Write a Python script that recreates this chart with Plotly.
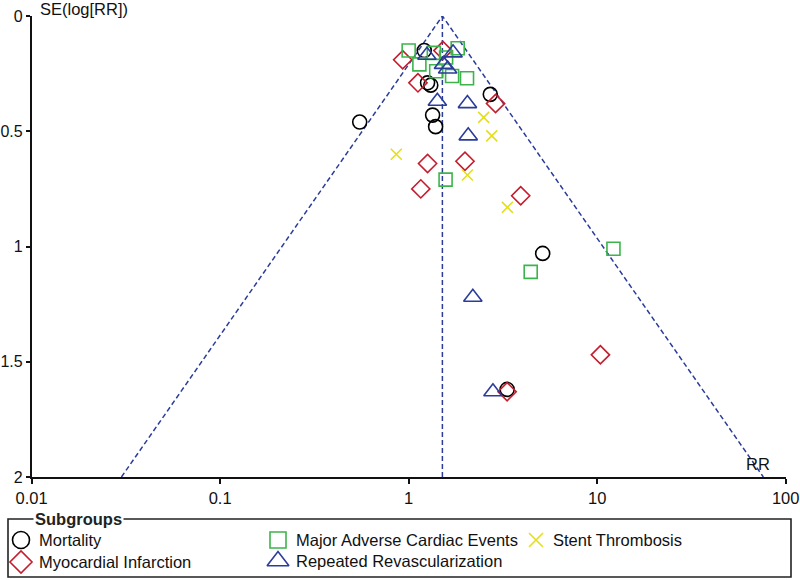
import math
import plotly.graph_objects as go

# ---------------- data ----------------
summary_rr = 1.51
se_max = 2.0

mort_rr = [0.55, 1.21, 1.26, 1.31, 2.71, 1.34, 1.39, 5.14, 3.33]
mort_se = [0.46, 0.15, 0.29, 0.30, 0.34, 0.43, 0.48, 1.03, 1.62]

mi_rr = [0.93, 1.52, 1.12, 2.89, 1.26, 1.99, 1.16, 3.93, 10.4, 3.33]
mi_se = [0.19, 0.15, 0.29, 0.38, 0.64, 0.63, 0.75, 0.78, 1.47, 1.63]

mace_rr = [1.00, 1.14, 1.36, 1.58, 1.82, 1.40, 1.70, 2.04, 1.57, 4.44, 12.2]
mace_se = [0.15, 0.21, 0.16, 0.18, 0.14, 0.24, 0.26, 0.27, 0.71, 1.11, 1.01]

rev_rr = [1.25, 1.72, 1.53, 1.61, 1.42, 2.05, 2.07, 2.19, 2.80]
rev_se = [0.17, 0.16, 0.21, 0.23, 0.37, 0.38, 0.52, 1.22, 1.63]

st_rr = [2.50, 2.76, 0.86, 2.05, 3.34]
st_se = [0.44, 0.52, 0.60, 0.69, 0.83]

x_ticks = [0.01, 0.1, 1, 10, 100]
x_ticktext = ["0.01", "0.1", "1", "10", "100"]
y_ticks = [0, 0.5, 1, 1.5, 2]
y_ticktext = ["0", "0.5", "1", "1.5", "2"]

groups = ["Mortality", "Myocardial Infarction", "Major Adverse Cardiac Events",
          "Repeated Revascularization", "Stent Thrombosis"]

# ---------------- styling ----------------
W, H = 800, 580
FONT = "Liberation Sans, Arial, sans-serif"
FS = 16.5
DASH_COL = "#2b3c9a"
styles = {
    "Mortality": dict(symbol="circle-open", color="#000000", size=14),
    "Myocardial Infarction": dict(symbol="diamond-open", color="#c41e2e", size=14),
    "Major Adverse Cardiac Events": dict(symbol="square-open", color="#3cb44b", size=13),
    "Repeated Revascularization": dict(symbol="triangle-up-open", color="#2b3c9a", size=16),
    "Stent Thrombosis": dict(symbol="x-thin-open", color="#e3df1c", size=11),
}
series = {
    "Mortality": (mort_rr, mort_se),
    "Myocardial Infarction": (mi_rr, mi_se),
    "Major Adverse Cardiac Events": (mace_rr, mace_se),
    "Repeated Revascularization": (rev_rr, rev_se),
    "Stent Thrombosis": (st_rr, st_se),
}

fig = go.Figure()

# funnel (pseudo 95% limits)
lo = math.exp(math.log(summary_rr) - 1.96 * se_max)
hi = math.exp(math.log(summary_rr) + 1.96 * se_max)
fig.add_trace(go.Scatter(x=[lo, summary_rr, hi], y=[se_max, 0, se_max], mode="lines",
                         line=dict(color=DASH_COL, width=1.5, dash="5px,3px"),
                         hoverinfo="skip", showlegend=False))
fig.add_trace(go.Scatter(x=[summary_rr, summary_rr], y=[0, se_max], mode="lines",
                         line=dict(color=DASH_COL, width=1.5, dash="5px,3px"),
                         hoverinfo="skip", showlegend=False))

for g in groups:
    xs, ys = series[g]
    st = styles[g]
    fig.add_trace(go.Scatter(
        x=xs, y=ys, mode="markers", name=g, showlegend=False,
        marker=dict(symbol=st["symbol"], size=st["size"], color=st["color"],
                    line=dict(width=1.6, color=st["color"])),
    ))

# ---------------- legend (drawn in pixel axes) ----------------
leg_items = [
    ("Mortality", 21, 540, 37),
    ("Myocardial Infarction", 21, 562, 37),
    ("Major Adverse Cardiac Events", 278, 540, 294),
    ("Repeated Revascularization", 278, 561, 294),
    ("Stent Thrombosis", 536, 540, 551),
]
for g, mx, my, tx in leg_items:
    st = styles[g]
    fig.add_trace(go.Scatter(
        x=[mx], y=[my], xaxis="x2", yaxis="y2", mode="markers", showlegend=False,
        hoverinfo="skip",
        marker=dict(symbol=st["symbol"], size=st["size"] + 3, color=st["color"],
                    line=dict(width=1.6, color=st["color"])),
    ))
    fig.add_annotation(x=tx, y=my, xref="x2", yref="y2", text=g, showarrow=False,
                       xanchor="left", yanchor="middle",
                       font=dict(family=FONT, size=FS, color="#111"))

fig.add_shape(type="rect", xref="x2", yref="y2", x0=8, x1=791, y0=519, y1=577,
              line=dict(color="#222", width=1.6), fillcolor="rgba(0,0,0,0)")
fig.add_annotation(x=33, y=519, xref="x2", yref="y2", text="<b>Subgroups</b>",
                   showarrow=False, xanchor="left", yanchor="middle",
                   bgcolor="white", borderpad=1,
                   font=dict(family=FONT, size=FS, color="#222"))

# axis titles
fig.add_annotation(x=38, y=9, xref="x2", yref="y2", text="SE(log[RR])", showarrow=False,
                   xanchor="left", yanchor="middle", font=dict(family=FONT, size=FS, color="#111"))
fig.add_annotation(x=772, y=464, xref="x2", yref="y2", text="RR", showarrow=False,
                   xanchor="right", yanchor="middle", font=dict(family=FONT, size=FS, color="#111"))

x_left, x_right = 31.6, 785.7
y_top, y_bot = 16, 477

fig.update_layout(
    width=W, height=H,
    margin=dict(l=0, r=0, t=0, b=0, autoexpand=False),
    paper_bgcolor="white", plot_bgcolor="rgba(0,0,0,0)",
    showlegend=False,
    font=dict(family=FONT, size=FS, color="#111"),
    xaxis=dict(type="log", range=[-2, 2], domain=[x_left / W, x_right / W],
               tickvals=x_ticks, ticktext=x_ticktext, showgrid=False, zeroline=False,
               showline=True, linecolor="#111", linewidth=1.5, ticks="outside",
               ticklen=5, tickwidth=1.5, tickcolor="#111", anchor="y",
               tickfont=dict(family=FONT, size=FS)),
    yaxis=dict(range=[2, 0], domain=[(H - y_bot) / H, (H - y_top) / H],
               tickvals=y_ticks, ticktext=y_ticktext, showgrid=False, zeroline=False,
               showline=True, linecolor="#111", linewidth=1.5, ticks="outside",
               ticklen=4, tickwidth=1.5, tickcolor="#111", anchor="x",
               tickfont=dict(family=FONT, size=16)),
    xaxis2=dict(range=[0, W], domain=[0, 1], visible=False, anchor="y2", fixedrange=True),
    yaxis2=dict(range=[H, 0], domain=[0, 1], visible=False, anchor="x2", fixedrange=True),
)

fig.write_html("out.html", config={"displayModeBar": False},
               post_script="document.body.style.margin='0';document.body.style.overflow='hidden';")
